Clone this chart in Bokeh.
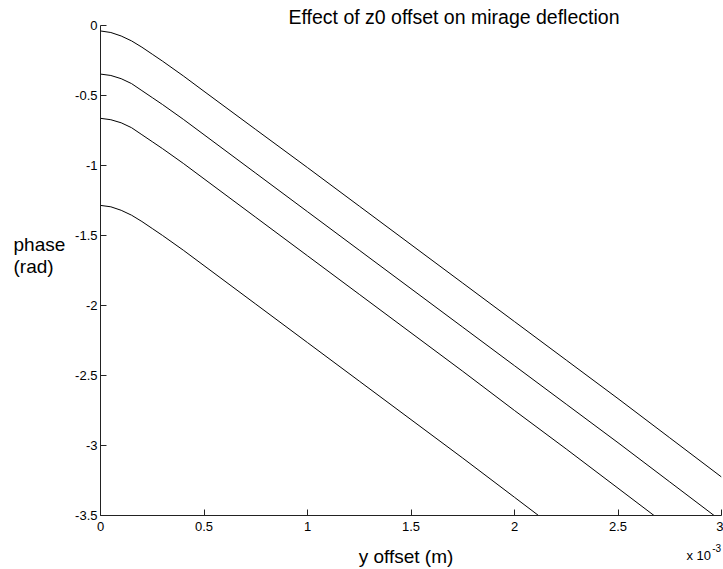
from bokeh.plotting import figure
from bokeh.models import Range1d, FixedTicker, Label
from bokeh.embed import file_html
from bokeh.resources import INLINE

# x positions in metres
y_offset_m = [0.0, 0.00005, 0.0001, 0.00015, 0.0002, 0.00025, 0.0003, 0.0004, 0.0005,
              0.00075, 0.001, 0.00125, 0.0015, 0.00175, 0.002, 0.00225, 0.0025,
              0.00275, 0.003]

# phase (rad) for the four z0 offsets
phase_1 = [-0.039, -0.050, -0.075, -0.110, -0.155, -0.205, -0.255, -0.360, -0.470,
           -0.743, -1.015, -1.290, -1.565, -1.840, -2.115, -2.390, -2.665, -2.945, -3.225]
phase_2 = [-0.347, -0.357, -0.380, -0.415, -0.465, -0.515, -0.565, -0.670, -0.780,
           -1.055, -1.330, -1.605, -1.880, -2.155, -2.430, -2.705, -2.980, -3.260, -3.540]
phase_3 = [-0.663, -0.673, -0.695, -0.730, -0.780, -0.830, -0.880, -0.985, -1.095,
           -1.370, -1.645, -1.920, -2.195, -2.470, -2.750, -3.025, -3.305, -3.585, -3.865]
phase_4 = [-1.285, -1.295, -1.320, -1.355, -1.400, -1.450, -1.500, -1.605, -1.715,
           -1.990, -2.265, -2.540, -2.815, -3.090, -3.370, -3.650, -3.930, -4.210, -4.490]
series = [phase_1, phase_2, phase_3, phase_4]

x_ticks = [0.0, 0.0005, 0.001, 0.0015, 0.002, 0.0025, 0.003]
x_tick_labels = ["0", "0.5", "1", "1.5", "2", "2.5", "3"]
y_ticks = [-3.5, -3.0, -2.5, -2.0, -1.5, -1.0, -0.5, 0.0]
y_tick_labels = ["-3.5", "-3", "-2.5", "-2", "-1.5", "-1", "-0.5", "0"]

FONT = "Liberation Sans"

W, H = 723, 569
L, R, T, B = 100, 2, 25, 54

p = figure(width=W, height=H, output_backend="svg", toolbar_location=None,
           x_range=Range1d(0, 0.003), y_range=Range1d(-3.5, 0),
           min_border_left=L, min_border_right=R, min_border_top=T, min_border_bottom=B)
p.xgrid.visible = False
p.ygrid.visible = False
p.outline_line_color = None
p.background_fill_color = "white"
p.border_fill_color = "white"

for ys in series:
    p.line(y_offset_m, ys, line_color="black", line_width=1)

for ax in (p.xaxis[0], p.yaxis[0]):
    ax.axis_line_color = "#222222"
    ax.major_tick_line_color = "#222222"
    ax.major_tick_in = 6
    ax.major_tick_out = 0
    ax.minor_tick_line_color = None
    ax.major_label_text_font = FONT
    ax.major_label_text_font_size = "13px"
    ax.major_label_text_color = "black"

p.xaxis.ticker = FixedTicker(ticks=x_ticks)
p.xaxis.major_label_overrides = {t: l for t, l in zip(x_ticks, x_tick_labels)}
p.xaxis.major_label_standoff = 6
p.yaxis.ticker = FixedTicker(ticks=y_ticks)
p.yaxis.major_label_overrides = {t: l for t, l in zip(y_ticks, y_tick_labels)}
p.yaxis.major_label_standoff = 3

FW = W - L - R
FH = H - T - B

# helpers: canvas-pixel -> data coordinates
def dx(px):
    return (px - L) / FW * 0.003

def dy(py):
    return -(py - T) / FH * 3.5

def lab(text, px, py, size, side, align="left", baseline="alphabetic", lh=1.2):
    p.add_layout(Label(x=dx(px), y=dy(py), text=text, text_font=FONT,
                       text_font_size=size, text_align=align, text_baseline=baseline,
                       text_line_height=lh, text_color="black"), side)

lab("Effect of z0 offset on mirage  deflection", 288, 16.5, "19.5px", "above")
lab("phase\n(rad)", 13, 233.5, "19px", "left", baseline="top", lh=1.05)
lab("-3", 711.7, 547.5, "10px", "left")
lab("y offset (m)", 405.5, 556, "19px", "below", align="center")
lab("x 10", 686, 554.5, "13px", "below")

open("out.html", "w").write(file_html(p, INLINE))
